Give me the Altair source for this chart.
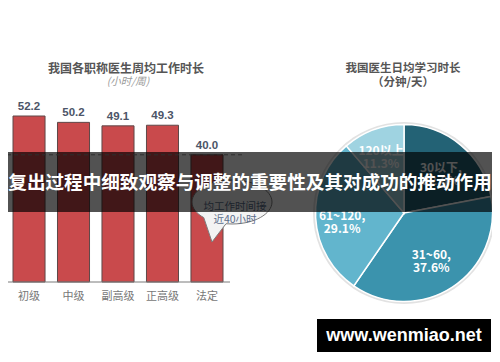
import altair as alt
import pandas as pd
import math

# ---------------- data ----------------
categories = ["初级", "中级", "副高级", "正高级", "法定"]
hours = [52.2, 50.2, 49.1, 49.3, 40.0]
ref_hours = [40.0]

pie_labels = ["30以下", "31~60", "61~120", "120以上"]
pie_pcts = [22.0, 37.6, 29.1, 11.3]
pie_colors = ["#236275", "#3b93ad", "#62b5cd", "#9fd3e1"]

bar_title = "我国各职称医生周均工作时长"
bar_subtitle = "(小时/周)"
pie_title = "我国医生日均学习时长"
pie_subtitle = "（分钟/天）"
bubble_lines = ["均工作时间接", "近40小时"]
banner_text = "复出过程中细致观察与调整的重要性及其对成功的推动作用"
watermark = "www.wenmiao.net"

CJK = "Noto Sans CJK SC"

bar_df = pd.DataFrame({"cat": categories, "val": hours})
ref_df = pd.DataFrame({"ref": ref_hours})
pie_df = pd.DataFrame({
    "label": pie_labels,
    "pct": pie_pcts,
    "idx": list(range(len(pie_labels))),
})
pie_df["txt"] = [
    (f"{l}\n{p:.1f}%" if l == "120以上" else f"{l},\n{p:.1f}%")
    for l, p in zip(pie_labels, pie_pcts)
]
one = pd.DataFrame({"a": [0]})

xscale = alt.Scale(domain=categories, range=[5, 215], paddingInner=0.28, paddingOuter=0)
yscale = alt.Scale(domain=[0, 52.2], range=[274, 108], nice=False, zero=True)

bars = alt.Chart(bar_df).mark_bar(
    color="#c94a4c", stroke="#5e4848", strokeWidth=1
).encode(
    x=alt.X("cat:N", scale=xscale, axis=None, sort=categories),
    y=alt.Y("val:Q", scale=yscale, axis=None),
)

val_labels = alt.Chart(bar_df).mark_text(
    font="Liberation Sans", fontWeight="bold", fontSize=11.5,
    color="#4c5568", baseline="bottom", dy=-4
).encode(
    x=alt.X("cat:N", scale=xscale, axis=None, sort=categories),
    y=alt.Y("val:Q", scale=yscale, axis=None),
    text=alt.Text("val:Q", format=".1f"),
)

cat_labels = alt.Chart(bar_df).mark_text(
    font=CJK, fontSize=11, color="#777777", baseline="middle"
).encode(
    x=alt.X("cat:N", scale=xscale, axis=None, sort=categories),
    y=alt.value(289),
    text="cat:N",
)

baseline = alt.Chart(one).mark_rule(color="#7a7a7a", strokeWidth=1).encode(
    x=alt.value(-1), x2=alt.value(222), y=alt.value(274)
)

ref_rule = alt.Chart(ref_df).mark_rule(
    color="#8a8a8a", strokeDash=[4, 3], strokeWidth=1
).encode(
    y=alt.Y("ref:Q", scale=yscale, axis=None),
    x=alt.value(-8), x2=alt.value(237),
)

bubble_path = (
    "M 0 0.55 C 0.5523 0.55 1 0.3038 1 0 "
    "C 1 -0.3038 0.5523 -0.55 0 -0.55 "
    "C -0.5523 -0.55 -1 -0.3038 -1 0 "
    "C -1 0.152 -0.888 0.289 -0.707 0.389 "
    "L -0.5 1.0 L -0.15 0.544 Z"
)
bubble = alt.Chart(one).mark_point(
    shape=bubble_path, size=6400, filled=True, fill="#f3f3f3",
    stroke="#7d7d7d", strokeWidth=1, opacity=1
).encode(x=alt.value(224), y=alt.value(194))

bubble_text = alt.Chart(one).mark_text(
    font=CJK, fontSize=10.5, color="#5b6d8a", lineHeight=13,
    text=bubble_lines
).encode(x=alt.value(227), y=alt.value(199))

bar_title_t = alt.Chart(one).mark_text(
    font=CJK, fontSize=12, fontWeight="bold", color="#555555", text=bar_title
).encode(x=alt.value(118), y=alt.value(61))
bar_sub_t = alt.Chart(one).mark_text(
    font=CJK, fontSize=10.5, fontStyle="italic", color="#9a9a9a", text=bar_subtitle
).encode(x=alt.value(120), y=alt.value(74))

pie_title_t = alt.Chart(one).mark_text(
    font=CJK, fontSize=11.5, fontWeight="bold", color="#555555", text=pie_title
).encode(x=alt.value(395), y=alt.value(61))
pie_sub_t = alt.Chart(one).mark_text(
    font=CJK, fontSize=11.5, fontWeight="bold", color="#555555", text=pie_subtitle
).encode(x=alt.value(395), y=alt.value(75))

pie_shadow = alt.Chart(one).mark_point(
    shape="circle", size=33124, filled=True, fill="#e2e2e2", opacity=1
).encode(x=alt.value(396), y=alt.value(205))

pie = alt.Chart(pie_df).mark_arc(
    outerRadius=88.5, stroke="white", strokeWidth=1.5
).encode(
    theta=alt.Theta("pct:Q", stack=True),
    color=alt.Color("label:N", scale=alt.Scale(domain=pie_labels, range=pie_colors), legend=None),
    order=alt.Order("idx:Q"),
    x=alt.value(396), y=alt.value(205),
)

# label distance from the pie centre, per slice (layout only)
label_radius = {"30以下": 58, "31~60": 50, "61~120": 62, "120以上": 66}
theta_scale = alt.Scale(domain=[0, 100], range=[0, 2 * math.pi])
pie_text_base = alt.Chart(pie_df).transform_window(
    cum="sum(pct)", sort=[alt.SortField("idx")]
).transform_calculate(mid="datum.cum - datum.pct / 2")
pie_texts = [
    pie_text_base.transform_filter(alt.datum.label == lab).mark_text(
        radius=r, font=CJK, fontSize=12, fontWeight="bold", color="white",
        lineBreak="\n", lineHeight=13
    ).encode(
        theta=alt.Theta("mid:Q", scale=theta_scale),
        text="txt:N",
        x=alt.value(396), y=alt.value(205),
    )
    for lab, r in label_radius.items()
]

banner = alt.Chart(one).mark_rect(color="black", opacity=0.68).encode(
    x=alt.value(0), x2=alt.value(484), y=alt.value(144), y2=alt.value(204)
)
banner_t = alt.Chart(one).mark_text(
    font=CJK, fontSize=18.6, fontWeight="bold", color="white", text=banner_text
).encode(x=alt.value(242), y=alt.value(175))

wm_rect = alt.Chart(one).mark_rect(color="black", opacity=1).encode(
    x=alt.value(309), x2=alt.value(483), y=alt.value(311), y2=alt.value(344)
)
wm_text = alt.Chart(one).mark_text(
    font="Liberation Sans", fontSize=18, fontWeight="bold", color="white", text=watermark
).encode(x=alt.value(396), y=alt.value(328))

chart = alt.layer(
    bars, ref_rule, baseline, val_labels, cat_labels, bubble, bubble_text,
    bar_title_t, bar_sub_t, pie_title_t, pie_sub_t,
    pie_shadow, pie, *pie_texts,
    banner, banner_t, wm_rect, wm_text,
).resolve_scale(theta="independent").properties(
    width=484, height=346, padding=0,
    autosize=alt.AutoSizeParams(type="none"),
    background="white",
).configure_view(strokeOpacity=0)

chart.save("out.html", embed_options={"renderer": "svg", "actions": False})
